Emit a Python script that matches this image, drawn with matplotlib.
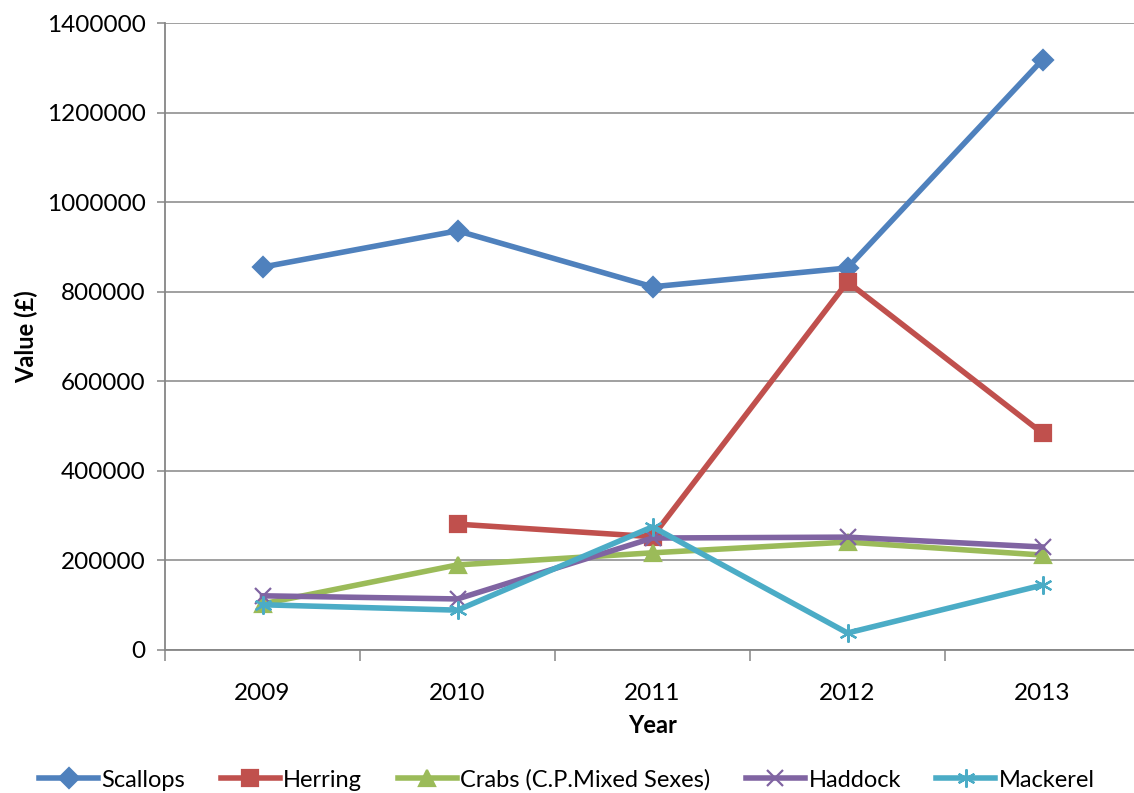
import matplotlib.pyplot as plt
from matplotlib.ticker import FixedLocator, NullFormatter
import numpy as np

plt.rcParams['font.family'] = ['Lato', 'DejaVu Sans']

years = ['2009', '2010', '2011', '2012', '2013']
scallops = [855000, 936000, 811000, 853000, 1318000]
herring = [np.nan, 281000, 253000, 822000, 484000]
crabs = [103000, 190000, 217000, 241000, 212000]
haddock = [121000, 114000, 250000, 252000, 230000]
mackerel = [101000, 89000, 275000, 38000, 145000]

series = [
    ('Scallops', scallops, '#4F81BD', 'D', 10),
    ('Herring', herring, '#C0504D', 's', 12),
    ('Crabs (C.P.Mixed Sexes)', crabs, '#9BBB59', '^', 11),
    ('Haddock', haddock, '#8064A2', 'x', 12),
    ('Mackerel', mackerel, '#4BACC6', (6, 2, 0), 13),
]

fig = plt.figure(figsize=(11.34, 7.93), dpi=100)
ax = fig.add_axes([165 / 1134, 143 / 793, 975 / 1134, 627 / 793])

x = np.arange(len(years))
for name, vals, col, mk, ms in series:
    ax.plot(x, vals, color=col, lw=4.0, marker=mk, markersize=ms,
            markerfacecolor=col, markeredgecolor=col, markeredgewidth=1.6,
            label=name, solid_joinstyle='round')

ax.set_ylim(0, 1400000)
ax.set_xlim(-0.5, len(years) - 0.5)
ax.set_yticks(np.arange(0, 1400001, 200000))
ax.set_yticklabels([str(v) for v in range(0, 1400001, 200000)])
ax.yaxis.grid(True, color='#868686', lw=1.1)
ax.set_axisbelow(True)

# category labels sit between the boundary tick marks
ax.xaxis.set_major_locator(FixedLocator(np.arange(-0.5, len(years), 1.0)))
ax.xaxis.set_major_formatter(NullFormatter())
ax.xaxis.set_minor_locator(FixedLocator(x))
ax.set_xticklabels(years, minor=True)
ax.tick_params(axis='x', which='minor', length=0, pad=24, labelsize=17.5)
ax.tick_params(axis='x', which='major', length=8, width=1.1, color='#868686')
ax.tick_params(axis='y', length=6, width=1.1, color='#868686', labelsize=17.5, pad=8)

for s in ['top', 'right']:
    ax.spines[s].set_visible(False)
for s in ['left', 'bottom']:
    ax.spines[s].set_color('#868686')
    ax.spines[s].set_linewidth(1.3)

ax.set_xlabel('Year', fontsize=17, fontweight='bold', labelpad=7)
ax.set_ylabel('Value (£)', fontsize=17, fontweight='bold', labelpad=6)

handles, labels = ax.get_legend_handles_labels()
fig.legend(handles, labels, loc='center', bbox_to_anchor=(0.5, 13 / 793), ncol=5,
           frameon=False, fontsize=17, handlelength=2.5, handletextpad=0.15,
           columnspacing=1.5)

fig.savefig('out.png', dpi=100)
